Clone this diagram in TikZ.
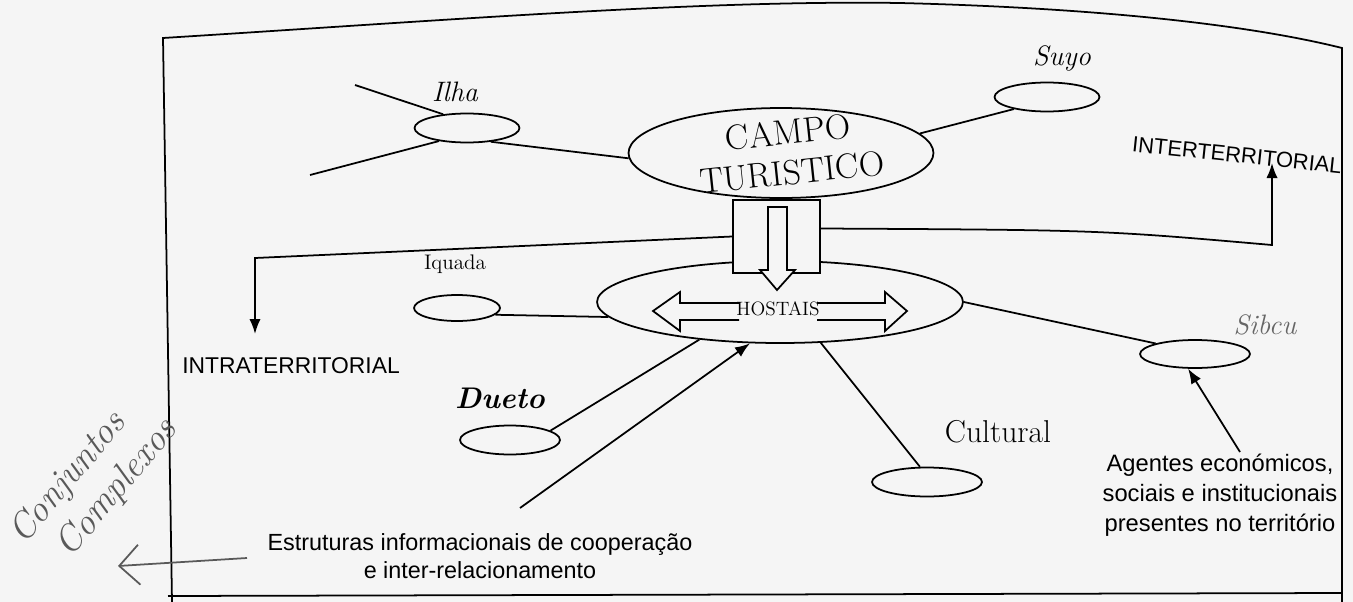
\documentclass[tikz,border=0pt]{standalone}
\usepackage{fontspec}
\newfontfamily\arial{Liberation Sans}
\usetikzlibrary{shapes.geometric,arrows.meta}
\tikzset{
  elip/.style={draw,ellipse,inner sep=0pt,minimum width=2.1cm,minimum height=.58cm},
  mao/.style={font=\fontsize{16}{18}\selectfont\itshape},
  impresso/.style={font=\arial\fontsize{13}{17}\selectfont}
}

\begin{document}
\begin{tikzpicture}[x=0.02cm,y=-0.02cm,line width=1pt]
\fill[black!4] (0,0) rectangle (1353,602);
\useasboundingbox (0,0) rectangle (1353,602);
% folha
\draw (172,602) -- (163,38) .. controls (450,20) and (700,0) .. (900,3) .. controls (1100,8) and (1250,25) .. (1342,48) -- (1342,602);
\draw (168,596) -- (1342,593);

\node[elip,minimum width=6.1cm,minimum height=1.8cm] (campo) at (781,153) {};
\node[mao,font=\fontsize{20}{23}\selectfont,rotate=6,align=center] (campotxt) at (790,152) {CAMPO\\TURISTICO};
\node[elip,minimum width=7.32cm,minimum height=1.64cm] (habitat) at (780,302) {};
\node[draw,fill=black!4,minimum width=1.74cm,minimum height=1.46cm] (caixa) at (776.5,236.5) {};
\draw[fill=black!4] (768,207) -- (787,207) -- (787,270) -- (795,270) -- (777,290) -- (760,270) -- (768,270) -- cycle;
\node[mao,font=\fontsize{11}{13}\selectfont] (habtxt) at (778,309) {HOSTAIS};
\draw (739,303) -- (680,303) -- (680,292) -- (653,311) -- (680,331) -- (680,320) -- (739,320);
\draw (817,303) -- (885,303) -- (885,292) -- (907,311) -- (885,331) -- (885,320) -- (817,320);

\node[elip] (ilha) at (467,128) {};
\node[elip] (suyo) at (1047,97) {};
\node[elip,minimum width=1.72cm,minimum height=.52cm] (iquad) at (457,308) {};
\node[elip,minimum width=2cm] (dueto) at (510,440) {};
\node[elip,minimum width=2.2cm] (cultural) at (927,482) {};
\node[elip,minimum width=2.2cm,minimum height=.56cm] (sibcu) at (1195,354) {};

\node[mao] (ilhatxt) at (455,92) {Ilha};
\node[mao] (suyotxt) at (1062,58) {Suyo};
\node[mao,font=\fontsize{12}{14}\selectfont] (iquadtxt) at (455,264) {Iquada};
\node[mao,font=\fontsize{17}{18}\selectfont\bfseries\itshape] (duetotxt) at (500,398) {Dueto};
\node[mao,font=\fontsize{18}{20}\selectfont] (culturaltxt) at (998,432) {Cultural};
\node[mao,black!60] (sibcutxt) at (1265,325) {Sibcu};

\node[impresso,font=\arial\fontsize{12.5}{15}\selectfont,rotate=-6] (inter) at (1237,155) {INTERTERRITORIAL};
\node[impresso] (intra) at (291,366) {INTRATERRITORIAL};
\node[impresso,font=\arial\fontsize{13.5}{17}\selectfont,align=center] (agentes) at (1220,495) {Agentes económicos,\\sociais e institucionais\\presentes no território};
\node[impresso,font=\arial\fontsize{13.3}{16}\selectfont,align=center] (estrut) at (480,556) {Estruturas informacionais de cooperação\\e inter-relacionamento};

\coordinate (c1) at (355,85);
\coordinate (c2) at (310,175);
\coordinate (c3) at (520,508);
\coordinate (c4) at (1240,452);
\coordinate (ia) at (255,258);
\coordinate (ib) at (255,334);
\coordinate (ea) at (1272,245);
\coordinate (eb) at (1272,163);
\coordinate (m1) at (247,558);
\coordinate (m2) at (118,566);

\draw (c1) -- (ilha.150);
\draw (ilha.205) -- (c2);
\draw (ilha.-30) -- (campo.182);
\draw (campo.8) -- (suyo.200);
\draw[-{Latex[length=3mm]}] (caixa.west) .. controls (500,247) .. (ia) -- (ib);
\draw[-{Latex[length=3mm]}] ([yshift=.16cm]caixa.east) .. controls (1100,230) .. (ea) -- (eb);
\draw (iquad.-10) -- (habitat.185);
\draw (dueto.13) -- (habitat.205);
\draw[-{Latex[length=3mm]}] (c3) -- (habitat.234);
\draw (habitat.-45) -- (cultural.115);
\draw (habitat.east) -- (sibcu.165);
\draw[-{Latex[length=3mm]}] (c4) -- (sibcu.-115);

% notas a lapis
\begin{scope}[black!65]
\node[mao,font=\fontsize{21}{25}\selectfont\itshape,rotate=50,align=left] (conj) at (94,482) {Conjuntos\\\hspace{4mm}Complexos};
\draw[-{Straight Barb[length=4mm,width=8mm]}] (m1) -- (m2);
\end{scope}
\end{tikzpicture}
\end{document}
